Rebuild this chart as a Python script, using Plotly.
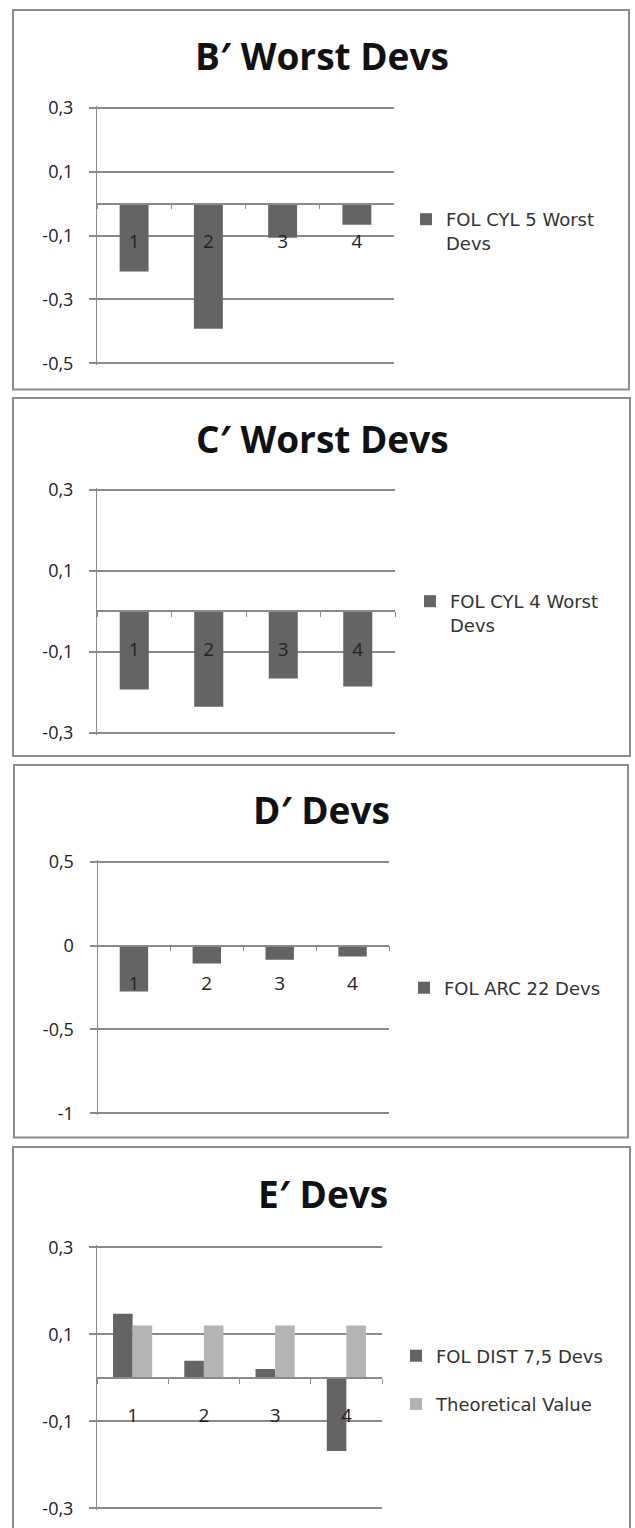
import plotly.graph_objects as go

# ---------------- data ----------------
categories = ["1", "2", "3", "4"]

b_title = "B′ Worst Devs"
b_series = "FOL CYL 5 Worst<br>Devs"
b_values = [-0.213, -0.392, -0.107, -0.066]
b_ticks = [0.3, 0.1, -0.1, -0.3, -0.5]
b_ticklabels = ["0,3", "0,1", "-0,1", "-0,3", "-0,5"]

c_title = "C′ Worst Devs"
c_series = "FOL CYL 4 Worst<br>Devs"
c_values = [-0.193, -0.236, -0.166, -0.186]
c_ticks = [0.3, 0.1, -0.1, -0.3]
c_ticklabels = ["0,3", "0,1", "-0,1", "-0,3"]

d_title = "D′ Devs"
d_series = "FOL ARC 22 Devs"
d_values = [-0.274, -0.107, -0.085, -0.065]
d_ticks = [0.5, 0, -0.5, -1]
d_ticklabels = ["0,5", "0", "-0,5", "-1"]

e_title = "E′ Devs"
e_series1 = "FOL DIST 7,5 Devs"
e_series2 = "Theoretical Value"
e_values1 = [0.147, 0.039, 0.020, -0.168]
e_values2 = [0.12, 0.12, 0.12, 0.12]
e_ticks = [0.3, 0.1, -0.1, -0.3]
e_ticklabels = ["0,3", "0,1", "-0,1", "-0,3"]

# ---------------- styling / layout helpers ----------------
W, H = 635, 1528
FONT = "Open Sans"
LEGFONT = "DejaVu Sans"
DARK = "#646464"
LIGHT = "#b4b4b4"
GRID = "#8a8a8a"
TXT = "#222222"


def px(x):
    return x / W


def py(y):
    return 1 - y / H


fig = go.Figure()

panels = [
    dict(title=b_title, xd=(97, 394), yd=(107.7, 363.3), rng=(-0.5, 0.3),
         tv=b_ticks, tt=b_ticklabels, box=(13, 10, 629, 389.5), tpos=(322, 56),
         leg=(406, 231), legfont=18),
    dict(title=c_title, xd=(97, 395), yd=(490, 732.7), rng=(-0.3, 0.3),
         tv=c_ticks, tt=c_ticklabels, box=(13, 398, 630, 756), tpos=(322, 438),
         leg=(410, 613), legfont=18),
    dict(title=d_title, xd=(97.5, 389), yd=(861.7, 1113.3), rng=(-1, 0.5),
         tv=d_ticks, tt=d_ticklabels, box=(14, 765, 628, 1137.5), tpos=(321, 809),
         leg=(404, 988), legfont=18),
    dict(title=e_title, xd=(97, 382), yd=(1247.3, 1508.3), rng=(-0.3, 0.3),
         tv=e_ticks, tt=e_ticklabels, box=(13, 1147, 630, 1545), tpos=(323, 1193),
         leg=(396, 1380), legfont=18),
]

layout = dict(
    width=W, height=H, autosize=False,
    margin=dict(l=0, r=0, t=0, b=0, pad=0, autoexpand=False),
    paper_bgcolor="white", plot_bgcolor="white",
    font=dict(family=FONT, color=TXT),
    showlegend=True,
    shapes=[], annotations=[],
)

PAD = 2.0  # px of padding so that edge gridlines are drawn

for i, p in enumerate(panels, start=1):
    sx = "" if i == 1 else str(i)
    r0, r1 = p["rng"]
    top, bot = p["yd"]
    upp = (r1 - r0) / (bot - top)
    rr0, rr1 = r0 - PAD * upp, r1 + PAD * upp
    ydom = [py(bot + PAD), py(top - PAD)]
    zero_pos = ydom[0] + (0 - rr0) / (rr1 - rr0) * (ydom[1] - ydom[0])
    layout["xaxis" + sx] = dict(
        domain=[px(p["xd"][0]), px(p["xd"][1])],
        anchor="free", position=zero_pos,
        type="category", range=[-0.5, 3.5],
        showline=True, linecolor=GRID, linewidth=1.5,
        ticks="outside", tickson="boundaries", ticklen=5, tickcolor=GRID, tickwidth=1,
        showgrid=False, zeroline=False, automargin=False,
        tickfont=dict(family=FONT, size=19, color=TXT),
        ticklabelstandoff=21,
        fixedrange=True,
    )
    layout["yaxis" + sx] = dict(
        domain=ydom, anchor="x" + sx, range=[rr0, rr1],
        tickmode="array", tickvals=p["tv"], ticktext=p["tt"],
        showgrid=True, gridcolor=GRID, gridwidth=1.5,
        showline=True, linecolor=GRID, linewidth=1,
        ticks="outside", ticklen=7, tickcolor=GRID, tickwidth=1.5,
        zeroline=False, automargin=False,
        tickfont=dict(family=FONT, size=18, color=TXT),
        ticklabelstandoff=12,
        fixedrange=True,
    )
    lname = "legend" + sx
    layout[lname] = dict(
        x=px(p["leg"][0]), y=py(p["leg"][1]), xanchor="left", yanchor="middle",
        font=dict(family=LEGFONT, size=p["legfont"], color="#333333"),
        bgcolor="rgba(0,0,0,0)", borderwidth=0, valign="top",
        itemwidth=30, tracegroupgap=22, traceorder="grouped",
    )
    x0, y0, x1, y1 = p["box"]
    layout["shapes"].append(dict(
        type="rect", xref="paper", yref="paper",
        x0=px(x0), x1=px(x1), y0=py(y1), y1=py(y0),
        line=dict(color="#8c8c8c", width=2), fillcolor="rgba(0,0,0,0)", layer="below",
    ))
    layout["annotations"].append(dict(
        text="<b>" + p["title"] + "</b>", xref="paper", yref="paper",
        x=px(p["tpos"][0]), y=py(p["tpos"][1]), xanchor="center", yanchor="middle",
        showarrow=False, font=dict(family=FONT, size=37, color="#111111"),
    ))

single = [(b_series, b_values), (c_series, c_values), (d_series, d_values)]
for i, (name, vals) in enumerate(single, start=1):
    sx = "" if i == 1 else str(i)
    fig.add_trace(go.Bar(
        x=categories, y=vals, name=name, marker=dict(color=DARK, line=dict(width=0)),
        width=0.39, xaxis="x" + sx, yaxis="y" + sx, legend="legend" + sx,
        legendgroup="g%d" % i, hoverinfo="skip",
    ))

fig.add_trace(go.Bar(
    x=categories, y=e_values1, name=e_series1, marker=dict(color=DARK, line=dict(width=0)),
    width=0.275, offset=-0.275, xaxis="x4", yaxis="y4", legend="legend4",
    legendgroup="e1", hoverinfo="skip",
))
fig.add_trace(go.Bar(
    x=categories, y=e_values2, name=e_series2, marker=dict(color=LIGHT, line=dict(width=0)),
    width=0.275, offset=0, xaxis="x4", yaxis="y4", legend="legend4",
    legendgroup="e2", hoverinfo="skip",
))

fig.update_layout(**layout)
fig.write_html(
    "out.html",
    config=dict(displayModeBar=False),
    post_script="document.body.style.margin='0';document.body.style.overflow='hidden';",
)
